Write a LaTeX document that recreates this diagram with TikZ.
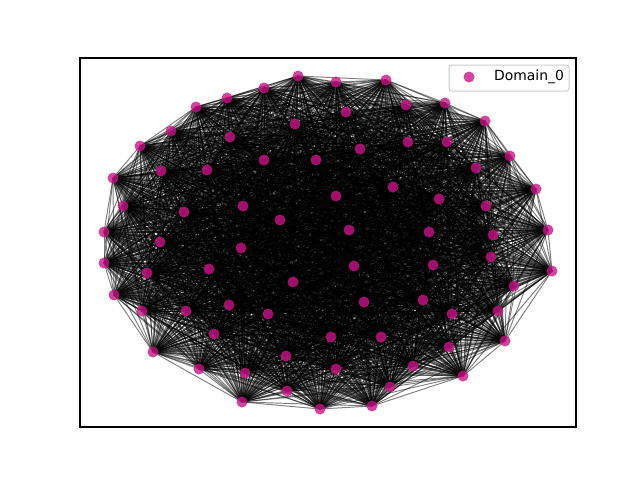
\documentclass[tikz,border=0pt]{standalone}
\usepackage{fontspec}
\setmainfont{DejaVu Sans}
\usepackage{tikz}
\definecolor{domainzero}{RGB}{199,21,133}
\pgfdeclarelayer{edges}
\pgfsetlayers{edges,main}
\begin{document}
\begin{tikzpicture}[x=1pt,y=-1pt,
  vertex/.style={circle,fill=domainzero,fill opacity=0.8,draw=none,minimum size=11pt,inner sep=0pt},
  link/.style={black,opacity=0.5,line width=0.95pt}]
\useasboundingbox (0,0) rectangle (640,480);
\draw[line width=1.1pt] (80,58) rectangle (576,427);
\foreach \x/\y [count=\i] in {298/76,336/82,386/80,264/88,227/98,196/107,406/105,445/103,346/112,295/124,
        485/121,171/131,230/137,408/142,447/142,140/146,360/149,510/156,264/160,316/160,
        476/168,161/171,207/170,113/178,393/187,536/189,336/196,439/199,123/206,243/206,
        486/206,184/212,280/220,548/230,349/230,429/232,104/232,493/235,160/242,241/248,
        491/257,552/271,354/266,433/265,104/263,147/273,209/269,293/282,514/286,114/295,
        364/302,423/300,142/311,186/311,229/305,268/314,452/314,498/311,214/334,331/337,
        381/337,505/341,449/347,153/352,286/356,336/369,413/366,199/369,245/373,463/376,
        287/391,390/387,242/402,372/406,320/409}
    \node[vertex] (v\i) at (\x,\y) {};
% every pair is linked
\begin{pgfonlayer}{edges}
\foreach \i in {1,...,74}{
    \pgfmathtruncatemacro{\k}{\i+1}
    \foreach \j in {\k,...,75}
        \draw[link] (v\i.center) -- (v\j.center);
}
\end{pgfonlayer}
% legend
\draw[rounded corners=2.8pt,draw=black!20,fill=white,fill opacity=0.8,line width=1pt] (449,65) rectangle (569,91);
\node[vertex] (legendmark) at (469,77) {};
\node[anchor=west,font=\fontsize{13.9}{16}\selectfont,inner sep=0pt] (legendtext) at (494,77) {Domain\_0};
\end{tikzpicture}
\end{document}
